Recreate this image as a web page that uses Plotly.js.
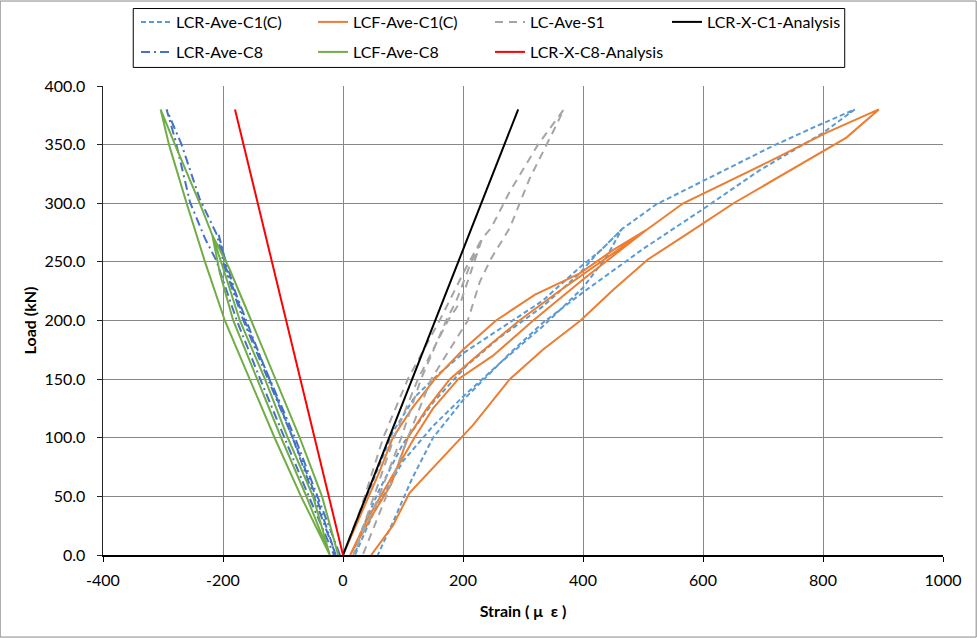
<!DOCTYPE html>
<html><head><meta charset="utf-8">
<script src="https://cdn.plot.ly/plotly-3.0.1.min.js"></script>
<style>html,body{margin:0;padding:0;background:#fff}#chart{width:977px;height:638px}</style>
</head><body><div id="chart"></div>
<script>
// LCR-Ave-C1(C)
const lcrC1Strain = [0,40,83,120,161,200,260,333,394,430,465, 420,394,333,260,205,150,100,60,30,20, 50,100,150,200,260,333,400,440,465, 522,600,717,790,853, 800,694,600,500,400,333,278,200,150,115,85,58];
const lcrC1Load   = [0,50,105,135,155,172,192,217,245,260,278, 255,240,212,185,161,130,95,55,20,0, 35,80,110,135,163,195,228,255,278, 299,319,349,366,380, 360,328,295,261,224,198,172,132,100,65,30,0];
// LCF-Ave-C1(C)
const lcfC1Strain = [0,30,60,83,115,153,200,255,320,394,450,505, 450,400,317,250,192,150,119,80,40,12, 50,80,108,140,178,235,294,360,430,505, 567,640,720,805,893, 839,745,651,580,508,450,396,333,278,217,167,111,83,47];
const lcfC1Load   = [0,35,70,100,125,150,175,200,222,240,260,277, 255,235,200,170,150,125,100,65,30,0, 35,60,100,125,150,175,200,225,250,277, 300,318,338,360,380, 356,328,300,276,252,226,200,175,150,111,84,53,25,0];
// LC-Ave-S1
const lcS1Strain = [0,30,67,108,161,178,205,232, 210,189,172,130,97,60,17, 55,85,125,175,197,215,232, 247,278,325,368, 353,311,278,247,228,208,147,108,72,33];
const lcS1Load   = [0,40,100,150,200,217,245,270, 245,217,200,150,100,50,0, 55,100,150,200,217,245,270, 279,310,350,380, 364,321,279,253,233,200,150,100,50,0];
// LCR-X-C1-Analysis
const anaC1Strain = [0,292];
const anaC1Load   = [0,380];
// LCR-Ave-C8
const lcrC8Strain = [-5,-42,-80,-122,-164,-195,-207, -198,-180,-150,-115,-80,-45,-12, -45,-84,-125,-166,-197,-210, -239,-269,-294, -280,-255,-230,-211,-191,-177,-138,-98,-57,-15];
const lcrC8Load   = [0,50,100,150,200,245,273, 255,225,185,140,95,50,0, 45,100,150,200,245,273, 304,350,380, 355,301,270,251,222,200,150,100,50,0];
// LCF-Ave-C8
const lcfC8Strain = [-8,-35,-72,-112,-153,-190,-218, -200,-172,-130,-92,-50,-22, -61,-103,-143,-183,-205,-218, -238,-260,-280,-304, -290,-260,-230,-197,-155,-114,-70,-22];
const lcfC8Load   = [0,50,100,150,200,245,273, 245,200,150,100,50,0, 50,100,150,200,240,273, 299,325,350,380, 350,299,250,200,150,100,50,0];
// LCR-X-C8-Analysis
const anaC8Strain = [0,-180];
const anaC8Load   = [0,380];

const xTicks = [-400,-200,0,200,400,600,800,1000];
const yTicks = [0,50,100,150,200,250,300,350,400];

const FONT = "Lato, 'Liberation Sans', Arial, sans-serif";

function tr(name, x, y, color, dash, legend) {
  return {type:'scatter', mode:'lines', name:name, x:x, y:y,
    line:{color:color, width:2, dash:dash}, legend:legend, hoverinfo:'skip'};
}

const data = [
  tr('LCR-Ave-C1(C)', lcrC1Strain, lcrC1Load, '#5B9BD5', '5px,3px', 'legend'),
  tr('LCF-Ave-C1(C)', lcfC1Strain, lcfC1Load, '#ED7D31', 'solid', 'legend'),
  tr('LC-Ave-S1', lcS1Strain, lcS1Load, '#A5A5A5', '8px,6px', 'legend'),
  tr('LCR-X-C1-Analysis', anaC1Strain, anaC1Load, '#000000', 'solid', 'legend'),
  tr('LCR-Ave-C8', lcrC8Strain, lcrC8Load, '#4472C4', '9px,4px,2px,4px', 'legend2'),
  tr('LCF-Ave-C8', lcfC8Strain, lcfC8Load, '#70AD47', 'solid', 'legend2'),
  tr('LCR-X-C8-Analysis', anaC8Strain, anaC8Load, '#FF0000', 'solid', 'legend2')
];

const legendBase = {xref:'container', yref:'container', xanchor:'left', yanchor:'middle', orientation:'h',
  entrywidth:132, entrywidthmode:'pixels', font:{family:FONT, size:16, color:'#000'},
  bgcolor:'rgba(0,0,0,0)', borderwidth:0, traceorder:'normal'};

const layout = {
  width:977, height:638,
  margin:{l:103, r:34, t:86, b:83},
  paper_bgcolor:'#fff', plot_bgcolor:'#fff',
  font:{family:FONT, size:16, color:'#000'},
  xaxis:{range:[-400,1000], tickvals:xTicks, ticktext:xTicks.map(String),
    showgrid:true, gridcolor:'#888', gridwidth:1, zeroline:false,
    showline:true, linecolor:'#000', linewidth:1.5,
    ticks:'outside', ticklen:5, tickcolor:'#000', ticklabelstandoff:5,
    tickfont:{family:FONT, size:16},
    title:{text:'<b>Strain ( μ  ε )</b>', font:{family:FONT, size:16}, standoff:18}},
  yaxis:{range:[0,400], tickvals:yTicks, ticktext:yTicks.map(v=>v.toFixed(1)),
    showgrid:true, gridcolor:'#888', gridwidth:1, zeroline:false,
    showline:true, linecolor:'#222', linewidth:1.5,
    ticks:'outside', ticklen:5, tickcolor:'#222', ticklabelstandoff:8,
    tickfont:{family:FONT, size:16},
    title:{text:'<b>Load (kN)</b>', font:{family:FONT, size:16}, standoff:4}},
  legend:Object.assign({}, legendBase, {x:136/977, y:1-22/638}),
  legend2:Object.assign({}, legendBase, {x:136/977, y:1-52/638}),
  shapes:[
    {type:'rect', xref:'paper', yref:'paper', x0:0.036, x1:0.883, y0:1.0396, y1:1.1652,
     line:{color:'#000', width:1}, fillcolor:'rgba(0,0,0,0)'},
    {type:'rect', xref:'paper', yref:'paper', x0:-0.1224, x1:1.0395, y0:-0.175, y1:1.1812,
     line:{color:'#888', width:1}, fillcolor:'rgba(0,0,0,0)'}
  ],
  showlegend:true
};

Plotly.newPlot('chart', data, layout, {displayModeBar:false, staticPlot:true});
</script>
</body></html>
